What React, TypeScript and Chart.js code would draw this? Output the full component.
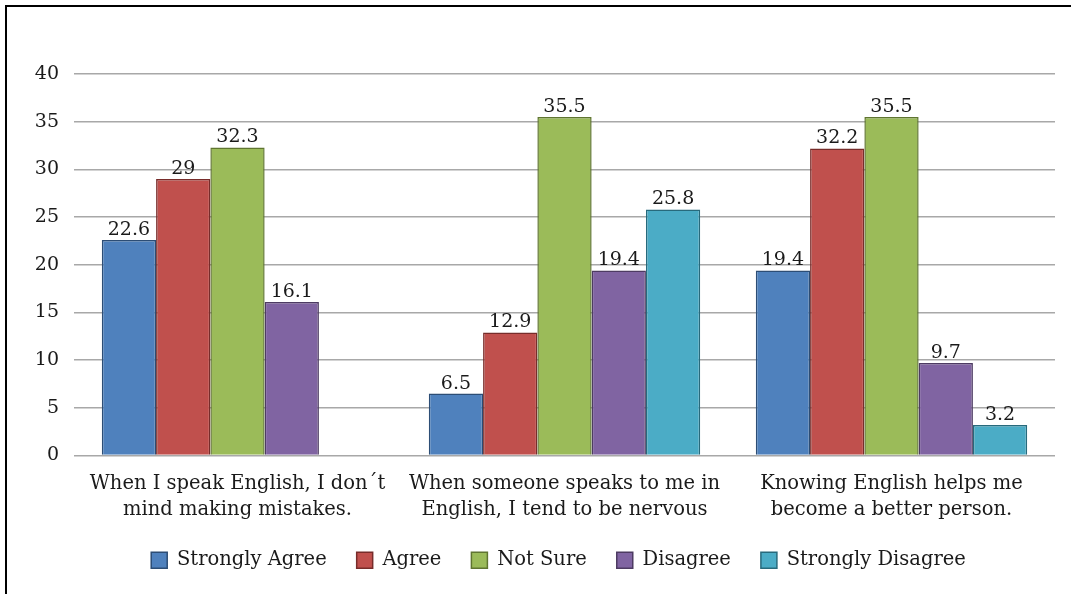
import React, { useEffect, useRef } from "react";
import { Chart, registerables } from "chart.js";

Chart.register(...registerables);

const categories: string[][] = [
  ["When I speak English, I don´t", "mind making mistakes."],
  ["When someone speaks to me in", "English, I tend to be nervous"],
  ["Knowing English helps me", "become a better person."],
];
const seriesNames = ["Strongly Agree", "Agree", "Not Sure", "Disagree", "Strongly Disagree"];
const stronglyAgree = [22.6, 6.5, 19.4];
const agree = [29, 12.9, 32.2];
const notSure = [32.3, 35.5, 35.5];
const disagree = [16.1, 19.4, 9.7];
const stronglyDisagree: (number | null)[] = [null, 25.8, 3.2];
const fills = ["#4F81BD", "#C0504D", "#9BBB59", "#8064A2", "#4BACC6"];
const borders = ["#2C4D75", "#772C2A", "#5F7530", "#4D3B62", "#276A7C"];

const FONT = "'DejaVu Serif', serif";
const TEXT = "#1a1a1a";

const valueLabels = {
  id: "valueLabels",
  afterDatasetsDraw(chart: any) {
    const ctx = chart.ctx;
    ctx.save();
    ctx.font = `19px ${FONT}`;
    ctx.fillStyle = TEXT;
    ctx.textAlign = "center";
    ctx.textBaseline = "alphabetic";
    chart.data.datasets.forEach((ds: any, i: number) => {
      const meta = chart.getDatasetMeta(i);
      meta.data.forEach((bar: any, j: number) => {
        const v = ds.data[j];
        if (v === null || v === undefined) return;
        ctx.fillText(String(v), bar.x, bar.y - 5);
      });
    });
    ctx.restore();
  },
};

const legendShift = {
  id: "legendShift",
  afterLayout(chart: any) {
    const lg = chart.legend;
    if (!lg) return;
    lg.left = 62;
    lg.top -= 11;
    lg.bottom -= 11;
  },
};

export default function App() {
  const ref = useRef<HTMLCanvasElement | null>(null);
  useEffect(() => {
    if (!ref.current) return;
    const values = [stronglyAgree, agree, notSure, disagree, stronglyDisagree];
    const chart = new Chart(ref.current, {
      type: "bar",
      data: {
        labels: categories,
        datasets: values.map((d, i) => ({
          label: seriesNames[i],
          data: d,
          backgroundColor: fills[i],
          borderColor: borders[i],
          borderWidth: 1.5,
          categoryPercentage: 0.83,
          barPercentage: 1,
        })),
      },
      options: {
        responsive: false,
        animation: false,
        layout: { padding: { left: 0, right: 16, top: 74, bottom: 3 } },
        plugins: {
          tooltip: { enabled: false },
          legend: {
            position: "bottom",
            labels: {
              font: { family: FONT, size: 19.5 },
              color: TEXT,
              boxWidth: 16,
              boxHeight: 16,
              padding: 30,
            },
          },
        },
        scales: {
          x: {
            grid: { display: false },
            border: { display: false },
            ticks: {
              font: { family: FONT, size: 19.5, lineHeight: 1.3 },
              color: TEXT,
              padding: 8,
              maxRotation: 0,
              autoSkip: false,
            },
            afterFit: (s: any) => {
              s.height = 76;
            },
          },
          y: {
            min: 0,
            max: 40,
            ticks: { stepSize: 5, font: { family: FONT, size: 19 }, color: TEXT, padding: 15 },
            grid: { color: "#a8a8a8", lineWidth: 1.5, drawTicks: false },
            border: { display: false },
            afterFit: (s: any) => {
              s.width = 74;
            },
          },
        },
      },
      plugins: [valueLabels, legendShift],
    });
    return () => chart.destroy();
  }, []);
  return (
    <div style={{ position: "fixed", left: 0, top: 0, width: 1071, height: 594, background: "#fff" }}>
      <div
        style={{
          position: "absolute",
          left: 5,
          top: 5,
          right: -10,
          bottom: -10,
          borderLeft: "2px solid #000",
          borderTop: "2px solid #000",
        }}
      />
      <canvas ref={ref} width={1071} height={594} style={{ position: "absolute", left: 0, top: 0 }} />
    </div>
  );
}
